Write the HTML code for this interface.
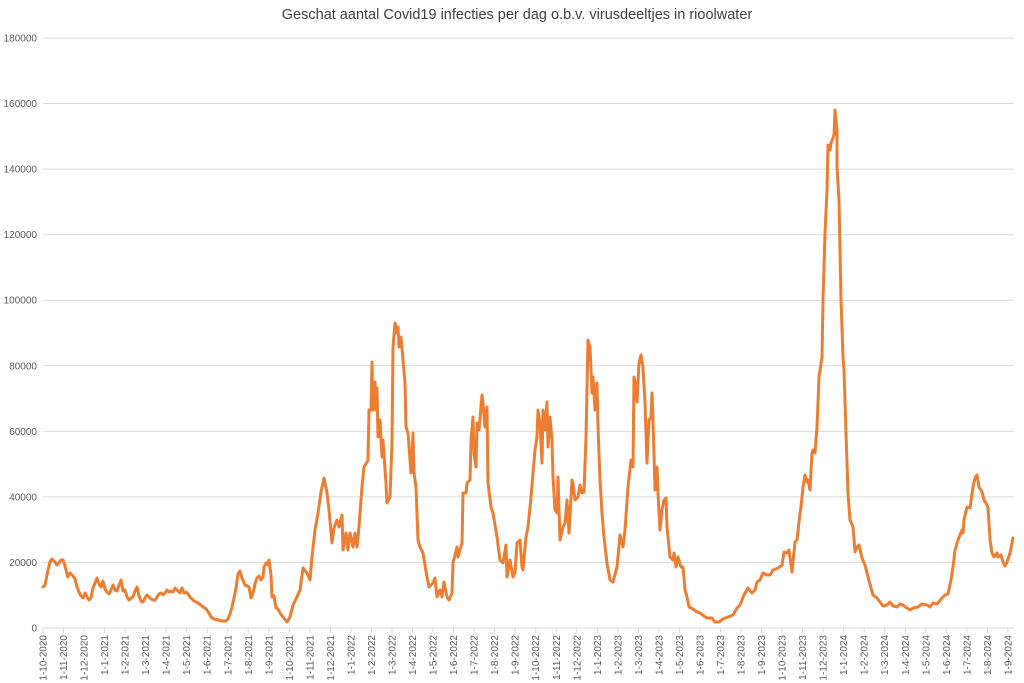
<!DOCTYPE html>
<html><head><meta charset="utf-8"><style>body{margin:0;background:#fff}svg{display:block}</style></head>
<body>
<svg width="1024" height="683" viewBox="0 0 1024 683" xmlns="http://www.w3.org/2000/svg" font-family="Liberation Sans, sans-serif">
<rect width="1024" height="683" fill="#fff"/>
<text x="517" y="19" text-anchor="middle" font-size="14.5" fill="#404040">Geschat aantal Covid19 infecties per dag o.b.v. virusdeeltjes in rioolwater</text>
<g stroke="#d9d9d9" stroke-width="1">
<line x1="43" x2="1014" y1="38" y2="38"/><line x1="43" x2="1014" y1="103.5" y2="103.5"/><line x1="43" x2="1014" y1="169.1" y2="169.1"/><line x1="43" x2="1014" y1="234.7" y2="234.7"/><line x1="43" x2="1014" y1="300.2" y2="300.2"/><line x1="43" x2="1014" y1="365.8" y2="365.8"/><line x1="43" x2="1014" y1="431.3" y2="431.3"/><line x1="43" x2="1014" y1="496.9" y2="496.9"/><line x1="43" x2="1014" y1="562.4" y2="562.4"/><line x1="43" x2="1014" y1="628" y2="628"/>
</g>
<g font-size="10" fill="#595959" text-anchor="end">
<text x="37" y="41.5">180000</text><text x="37" y="107">160000</text><text x="37" y="172.6">140000</text><text x="37" y="238.2">120000</text><text x="37" y="303.7">100000</text><text x="37" y="369.3">80000</text><text x="37" y="434.8">60000</text><text x="37" y="500.4">40000</text><text x="37" y="565.9">20000</text><text x="37" y="631.5">0</text>
</g>
<g id="xl" font-size="10" fill="#595959" text-anchor="end"></g>
<g id="tk" stroke="#d9d9d9" stroke-width="1"></g>
<polyline fill="none" stroke="#ED7D31" stroke-width="3" stroke-linejoin="round" stroke-linecap="round" points="43,587 45,585 48,570 50,562 52,559 55,562 57,565 59,563 61,560 63,560 65,566 67,574 68,577 70,573 73,576 75,579 77,587 79,592 81,596 83,598 85,593 87,597 89,600 91,598 93,588 95,583 97,578 99,584 101,587 103,581 105,589 107,592 109,594 111,590 113,585 115,590 117,591 119,585 121,580 123,591 125,590 127,597 129,600 131,598 133,597 135,591 137,587 139,596 141,601 143,602 145,598 147,595 149,597 151,599 153,600 155,600 157,597 159,594 161,593 163,595 165,593 167,590 169,592 171,591 173,592 175,588 177,590 178,591 180,593 182,588 184,593 186,592 188,594 190,597 192,599 194,601 198,603 202,606 206,609 209,613 211,617 214,619 218,620 222,621 226,621 228,619 230,614 232,607 234,598 236,588 238,574 240,571 242,578 245,585 247,586 249,587 251,598 253,593 255,584 257,578 259,576 261,580 263,577 264,567 266,563 268,565 269,560 271,575 272,597 274,596 276,608 278,609 280,613 283,617 287,622 290,617 293,605 297,597 300,590 303,568 307,573 310,580 312,557 315,530 318,513 321,492 324,478 327,493 329,510 332,543 334,528 337,520 339,527 342,515 343,550 346,533 348,550 350,533 353,547 355,533 357,547 359,527 362,487 364,467 367,462 368,460 369,410 371,410 372,362 373,410 375,382 376,410 377,388 378,437 380,420 382,457 383,440 386,483 387,503 390,497 392,443 393,347 395,323 397,333 398,327 399,347 401,337 403,360 405,383 406,427 408,433 411,473 413,433 414,473 416,487 418,540 420,547 423,553 427,577 429,587 433,583 435,578 437,597 440,590 442,597 444,582 447,597 449,600 452,593 453,563 457,547 458,557 462,543 463,493 466,493 467,483 470,480 471,440 473,417 474,453 476,467 477,423 479,430 482,395 483,403 485,427 487,407 488,483 491,507 493,513 497,537 500,560 503,563 506,545 507,577 510,560 513,577 515,573 517,543 520,540 522,567 523,570 526,537 528,527 531,497 533,473 535,450 537,437 538,410 540,423 542,463 543,410 545,430 547,402 548,447 550,417 552,440 553,477 555,510 557,513 558,477 560,540 563,527 565,523 567,500 569,533 572,480 573,483 575,500 578,497 580,485 582,493 584,492 586,437 588,340 590,347 592,393 593,377 595,410 597,383 598,427 600,480 602,513 604,537 607,563 610,580 613,582 617,567 620,535 623,547 625,530 628,487 631,460 633,467 634,377 636,387 637,402 639,363 641,355 643,368 645,403 647,463 649,420 651,417 652,393 653,420 655,490 657,467 658,493 660,530 662,510 664,500 666,498 667,527 670,557 673,560 674,553 676,567 678,557 681,567 683,567 685,590 687,597 689,607 693,609 697,612 700,613 704,616 707,618 712,618 715,622 719,622 723,619 728,617 733,615 737,608 740,605 744,595 748,588 752,593 755,590 757,582 760,580 763,573 767,575 770,575 773,570 778,568 782,565 784,552 787,553 789,550 792,572 795,542 797,540 800,513 801,507 803,487 805,475 807,482 808,480 810,490 812,453 813,450 815,453 817,427 819,377 822,357 823,300 825,233 827,190 828,145 830,150 831,143 833,138 834,135 835,110 837,130 837,167 839,200 841,300 843,357 844,370 846,433 848,493 850,520 853,527 855,552 857,547 859,545 862,558 865,565 868,577 871,588 873,595 877,598 880,602 883,606 887,605 890,602 893,606 897,607 900,604 903,605 907,608 910,610 913,608 918,607 922,604 927,605 930,607 933,603 937,604 942,598 945,595 948,594 951,580 953,567 955,550 958,540 962,530 963,533 964,520 967,507 970,508 973,487 975,478 977,475 979,487 982,492 984,500 987,505 988,508 990,540 992,553 994,557 997,553 998,557 1001,555 1003,562 1005,566 1007,562 1010,553 1013,538"/>
<script>
(function(){
var g=document.getElementById('xl'),t=document.getElementById('tk'),ns='http://www.w3.org/2000/svg';
var m=10,y=2020;
for(var i=0;i<48;i++){
 var x=43+i*20.53;
 var l=document.createElementNS(ns,'line');l.setAttribute('x1',x);l.setAttribute('x2',x);l.setAttribute('y1',628);l.setAttribute('y2',633);t.appendChild(l);
 var e=document.createElementNS(ns,'text');
 e.setAttribute('transform','translate('+(x+3.5)+',635) rotate(-90)');
 e.textContent='1-'+m+'-'+y;g.appendChild(e);
 m++;if(m>12){m=1;y++;}
}
})();
</script>
</svg>
</body></html>
